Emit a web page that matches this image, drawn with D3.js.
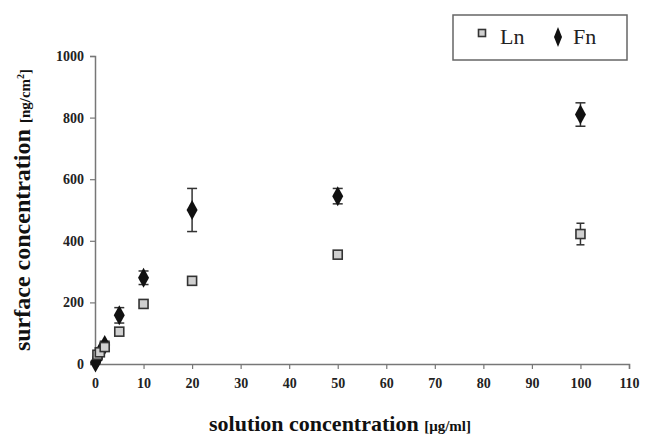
<!DOCTYPE html>
<html><head><meta charset="utf-8">
<script src="https://cdn.jsdelivr.net/npm/d3@7"></script>
<style>body{margin:0;background:#fff}svg{display:block}</style>
</head><body>
<script>
const lnX = [0.5, 1, 2, 5, 10, 20, 50, 100];
const lnY = [30, 38, 55, 105, 195, 270, 355, 422];
const lnErr = [5, 5, 6, 6, 8, 8, 8, 35];
const fnX = [0.1, 0.5, 1, 2, 5, 10, 20, 50, 100];
const fnY = [5, 18, 38, 62, 158, 280, 500, 545, 810];
const fnErr = [4, 6, 10, 12, 25, 22, 70, 25, 38];
const xTicks = [0,10,20,30,40,50,60,70,80,90,100,110];
const yTicks = [0,200,400,600,800,1000];

const W = 647, H = 437;
const svg = d3.select("body").append("svg").attr("width", W).attr("height", H);
const x = d3.scaleLinear().domain([0,110]).range([95,629]);
const y = d3.scaleLinear().domain([0,1000]).range([364,56]);
const axisCol = "#777";
const font = "'Liberation Serif', 'Times New Roman', serif";

const xa = svg.append("g").attr("transform","translate(0,364)")
  .call(d3.axisBottom(x).tickValues(xTicks).tickFormat(d3.format("d")).tickSize(5).tickPadding(9));
const ya = svg.append("g").attr("transform","translate(95,0)")
  .call(d3.axisLeft(y).tickValues(yTicks).tickFormat(d3.format("d")).tickSize(5).tickPadding(6));
[xa, ya].forEach(g => {
  g.attr("font-family", font).attr("font-size", 14);
  g.select(".domain").attr("stroke", axisCol).attr("stroke-width", 1.5);
  g.selectAll(".tick line").attr("stroke", axisCol).attr("stroke-width", 1.2);
  g.selectAll(".tick text").attr("fill", "#222").style("font-family", font)
    .attr("font-weight", "bold").style("font-size", "14px");
});

// axis titles
const xt = svg.append("text").attr("x", 340).attr("y", 431).attr("text-anchor","middle")
  .attr("font-family", font).attr("font-weight","bold").attr("fill","#111");
xt.append("tspan").attr("font-size", 22).text("solution concentration ");
xt.append("tspan").attr("font-size", 15).text("[μg/ml]");

const yt = svg.append("text").attr("transform","translate(30,210) rotate(-90)")
  .attr("text-anchor","middle").attr("font-family", font).attr("font-weight","bold").attr("fill","#111");
yt.append("tspan").attr("font-size", 24).text("surface concentration ");
yt.append("tspan").attr("font-size", 15).text("[ng/cm");
yt.append("tspan").attr("font-size", 10).attr("dy", -6).text("2");
yt.append("tspan").attr("font-size", 15).attr("dy", 6).text("]");

// error bars
function errBars(xs, ys, es, cap) {
  const g = svg.append("g").attr("stroke", "#333").attr("stroke-width", 1.5);
  xs.forEach((xv, i) => {
    const px = x(xv), y1 = y(ys[i] + es[i]), y2 = y(Math.max(0, ys[i] - es[i]));
    g.append("line").attr("x1", px).attr("x2", px).attr("y1", y1).attr("y2", y2);
    g.append("line").attr("x1", px - cap).attr("x2", px + cap).attr("y1", y1).attr("y2", y1);
    g.append("line").attr("x1", px - cap).attr("x2", px + cap).attr("y1", y2).attr("y2", y2);
  });
}
errBars(lnX, lnY, lnErr, 4);
errBars(fnX, fnY, fnErr, 5);

function square(g, cx, cy, s) {
  g.append("rect").attr("x", cx - s/2).attr("y", cy - s/2).attr("width", s).attr("height", s)
    .attr("fill", "#d0d0d0").attr("stroke", "#333").attr("stroke-width", 1.6);
}
function diamond(g, cx, cy, w, h) {
  g.append("path").attr("d", `M${cx},${cy-h/2} L${cx+w/2},${cy} L${cx},${cy+h/2} L${cx-w/2},${cy} Z`)
    .attr("fill", "#111");
}
const fnG = svg.append("g");
fnX.forEach((xv, i) => diamond(fnG, x(xv), y(fnY[i]), 11, 20));
const lnG = svg.append("g");
lnX.forEach((xv, i) => square(lnG, x(xv), y(lnY[i]), 9));

// legend
svg.append("rect").attr("x", 453).attr("y", 15).attr("width", 174).attr("height", 45)
  .attr("fill", "#fff").attr("stroke", "#666").attr("stroke-width", 1.5);
const lg = svg.append("g");
square(lg, 482, 33, 7);
lg.append("text").attr("x", 500).attr("y", 44).attr("font-family", font).attr("font-size", 22)
  .attr("fill", "#222").text("Ln");
diamond(lg, 558, 37, 8, 20);
lg.append("text").attr("x", 573).attr("y", 44).attr("font-family", font).attr("font-size", 22)
  .attr("fill", "#222").text("Fn");
</script>
</body></html>
